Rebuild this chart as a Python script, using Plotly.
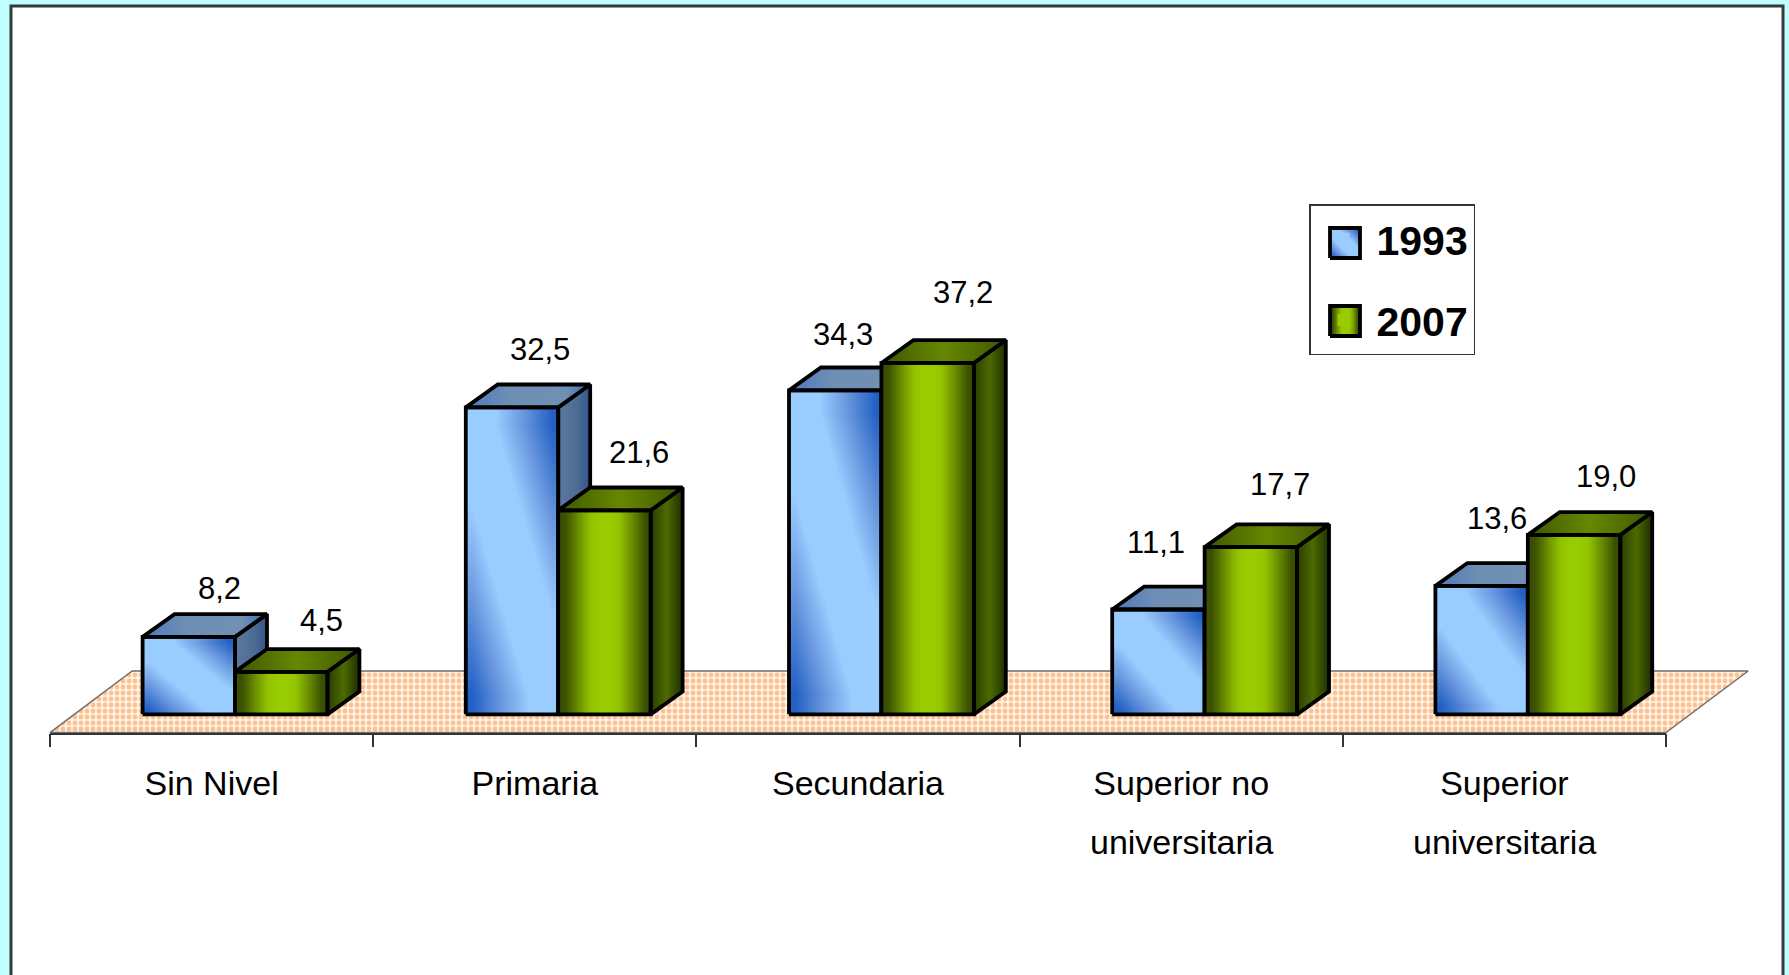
import plotly.graph_objects as go

CATEGORIES = ["Sin Nivel", "Primaria", "Secundaria", "Superior no", "Superior"]
SECOND_LINES = ["", "", "", "universitaria", "universitaria"]
YEARS = ["1993", "2007"]
VALUES_1993 = [8.2, 32.5, 34.3, 11.1, 13.6]
VALUES_2007 = [4.5, 21.6, 37.2, 17.7, 19.0]

# label nudges in pixels (right, up), relative to the top-centre of the front face
LABEL_NUDGE_1993 = [(31, 48), (28, 58), (8, 56), (-2, 67), (15, 67)]
LABEL_NUDGE_2007 = [(40, 51), (35, 58), (35, 70), (29, 63), (32, 58)]

W, H = 1789, 975
L, R, BOTTOM = 50, 1666, 732.6
XUNIT = (R - L) / 5
YUNIT = 9.447
YMIN = -1.93
YMAX = BOTTOM / YUNIT + YMIN
BAR_W = 0.286
SHIFT = 0.0725
DEPTH_X = 28 * 1.141 / XUNIT
DEPTH_Y = 20 * 1.141 / YUNIT
OUT = "#000000"
OUT_W = 3.8

BLUE_SCALE = [[0, "#99CCFF"], [0.3, "#99CCFF"], [0.62, "#6C9AE0"], [1, "#2260C4"]]
GREEN_SCALE = [[0, "#99CC00"], [0.2, "#93C400"], [0.6, "#6A8E00"], [1, "#3A5000"]]
GRID_STEPS = 8
BLUE_GRID = [[abs((i + 0.5) / GRID_STEPS + (j + 0.5) / GRID_STEPS - 1) * 1.14 for i in range(GRID_STEPS)]
             for j in range(GRID_STEPS)]
GREEN_GRID = [[1, 0.66, 0.3, 0, 0, 0.3, 0.66, 1]] * 2


def px_x(p):
    return (p - L) / XUNIT - 0.5


def px_y(p):
    return (BOTTOM - p) / YUNIT + YMIN


XRANGE = [px_x(0), px_x(W)]

fig = go.Figure()

# floor
fx0, fx1 = -0.5, 4.5
fdx = 72 * 1.141 / XUNIT
fback = (626 - 588) * 1.141 / YUNIT
fig.add_trace(go.Scatter(
    x=[fx0, fx0 + fdx, fx1 + fdx, fx1, fx0], y=[YMIN, fback, fback, YMIN, YMIN],
    mode="lines", fill="toself", showlegend=False, hoverinfo="skip",
    line=dict(color="#6E6E6E", width=1.5),
    fillpattern=dict(shape=".", size=6, solidity=0.5, fgcolor="#FFC08F", bgcolor="#FFF4E8", fillmode="replace"),
))

positions = [
    [i + SHIFT - BAR_W / 2 for i in range(5)],
    [i + SHIFT + BAR_W / 2 for i in range(5)],
]

# data bars
for name, xs, vals, col in zip(YEARS, positions, [VALUES_1993, VALUES_2007], ["#99CCFF", "#99CC00"]):
    fig.add_trace(go.Bar(
        x=xs, y=vals, width=BAR_W, name=name, legendgroup=name,
        marker=dict(color=col, line=dict(width=0)), xaxis="x2", yaxis="y2", hoverinfo="x+y",
    ))


def poly(xs, ys, axes, grad=None, color=None):
    kw = dict(x=xs + xs[:1], y=ys + ys[:1], mode="lines", fill="toself", showlegend=False,
              hoverinfo="skip", line=dict(color=OUT, width=OUT_W), xaxis=axes[0], yaxis=axes[1])
    if grad:
        kw["fillgradient"] = dict(type="horizontal", colorscale=grad)
    else:
        kw["fillcolor"] = color
    fig.add_trace(go.Scatter(**kw))


def front(x0, x1, y0, y1, axes, z, scale):
    nx, ny = len(z[0]), len(z)
    fig.add_trace(go.Heatmap(
        x=[x0 + (x1 - x0) * k / nx for k in range(nx + 1)],
        y=[y0 + (y1 - y0) * k / ny for k in range(ny + 1)],
        z=z, zmin=0, zmax=1, zsmooth="best", colorscale=scale, showscale=False,
        hoverinfo="skip", xaxis=axes[0], yaxis=axes[1],
    ))
    fig.add_trace(go.Scatter(
        x=[x0, x1, x1, x0, x0], y=[y0, y0, y1, y1, y0], mode="lines", showlegend=False,
        hoverinfo="skip", line=dict(color=OUT, width=OUT_W), xaxis=axes[0], yaxis=axes[1],
    ))


STYLES = [
    dict(axes=("x3", "y3"), z=BLUE_GRID, scale=BLUE_SCALE,
         top=[[0, "#4C78BE"], [0.35, "#6E8FB4"], [0.8, "#7090B4"], [1, "#3C6CBE"]],
         side=[[0, "#5A7AA0"], [0.6, "#4C6C94"], [1, "#34548A"]]),
    dict(axes=("x4", "y4"), z=GREEN_GRID, scale=GREEN_SCALE,
         top=[[0, "#3E5600"], [0.5, "#668800"], [1, "#3E5600"]],
         side=[[0, "#2A3E00"], [0.5, "#4C6A00"], [1, "#1E2E00"]]),
]

for xs, vals, st in zip(positions, [VALUES_1993, VALUES_2007], STYLES):
    for c, v in zip(xs, vals):
        x0, x1 = c - BAR_W / 2, c + BAR_W / 2
        poly([x1, x1 + DEPTH_X, x1 + DEPTH_X, x1], [0, DEPTH_Y, v + DEPTH_Y, v], st["axes"], grad=st["side"])
        poly([x0, x1, x1 + DEPTH_X, x0 + DEPTH_X], [v, v, v + DEPTH_Y, v + DEPTH_Y], st["axes"], grad=st["top"])
        front(x0, x1, 0, v, st["axes"], st["z"], st["scale"])

# legend keys behind the (transparent) legend
for cy, st in zip([243, 321], STYLES):
    front(px_x(1330), px_x(1360), px_y(cy + 15), px_y(cy - 15), st["axes"], st["z"], st["scale"])

# carrier for the tick axis
fig.add_trace(go.Scatter(x=list(range(5)), y=[None] * 5, mode="markers", showlegend=False,
                         hoverinfo="skip", xaxis="x5", yaxis="y5"))

annotations = []
for xs, vals, nudge in zip(positions, [VALUES_1993, VALUES_2007], [LABEL_NUDGE_1993, LABEL_NUDGE_2007]):
    for c, v, (dx, dy) in zip(xs, vals, nudge):
        annotations.append(dict(
            x=c, y=v, xref="x", yref="y", xshift=dx, yshift=dy, showarrow=False,
            text=f"{v:.1f}".replace(".", ","), xanchor="center", yanchor="middle",
            font=dict(family="Liberation Sans", size=31, color="#000"),
        ))
for i, t in enumerate(SECOND_LINES):
    if t:
        annotations.append(dict(
            x=i, y=px_y(842), xref="x", yref="y", showarrow=False, text=t, xanchor="center", yanchor="middle",
            font=dict(family="Liberation Sans", size=34, color="#000"),
        ))

hidden = dict(visible=False, fixedrange=True)
fig.update_layout(
    width=W, height=H, autosize=False,
    margin=dict(l=0, r=0, t=0, b=0, pad=0),
    paper_bgcolor="#C0FFFF", plot_bgcolor="rgba(0,0,0,0)",
    barmode="overlay", bargap=0,
    xaxis=dict(range=XRANGE, **hidden),
    yaxis=dict(range=[px_y(H), px_y(0)], **hidden),
    xaxis2=dict(overlaying="x", range=XRANGE, **hidden),
    yaxis2=dict(overlaying="y", range=[px_y(H), px_y(0)], **hidden),
    xaxis3=dict(overlaying="x", range=XRANGE, **hidden),
    yaxis3=dict(overlaying="y", range=[px_y(H), px_y(0)], **hidden),
    xaxis4=dict(overlaying="x", range=XRANGE, **hidden),
    yaxis4=dict(overlaying="y", range=[px_y(H), px_y(0)], **hidden),
    yaxis5=dict(domain=[1 - BOTTOM / H, 1], range=[0, 1], **hidden),
    xaxis5=dict(domain=[L / W, R / W], range=[-0.5, 4.5], anchor="y5", showgrid=False, zeroline=False,
                showline=True, linecolor="#333", linewidth=1.5,
                tickmode="array", tickvals=list(range(5)), ticktext=CATEGORIES, ticks="", ticklabelstandoff=20,
                tickfont=dict(family="Liberation Sans", size=34, color="#000"),
                minor=dict(tickmode="array", tickvals=[k - 0.5 for k in range(6)], ticks="outside", ticklen=13,
                           tickwidth=1.5, tickcolor="#333", showgrid=False),
                fixedrange=True),
    legend=dict(
        x=1309 / W, y=1 - 204 / H, xanchor="left", yanchor="top",
        bgcolor="rgba(0,0,0,0)", bordercolor="#333", borderwidth=1.5,
        tracegroupgap=25, itemclick=False, itemdoubleclick=False, itemwidth=56,
        font=dict(family="Liberation Sans", size=41, color="#000", weight="bold"),
    ),
    annotations=annotations,
    shapes=[dict(type="rect", xref="paper", yref="paper", layer="below",
                 x0=11 / W, x1=1783 / W, y0=-0.02, y1=1 - 6 / H,
                 line=dict(color="#333B3B", width=3), fillcolor="#FFFFFF")],
    showlegend=True,
)

fig.write_html("out.html", config=dict(displayModeBar=False),
               post_script="document.body.style.margin='0';document.body.style.overflow='hidden';")
